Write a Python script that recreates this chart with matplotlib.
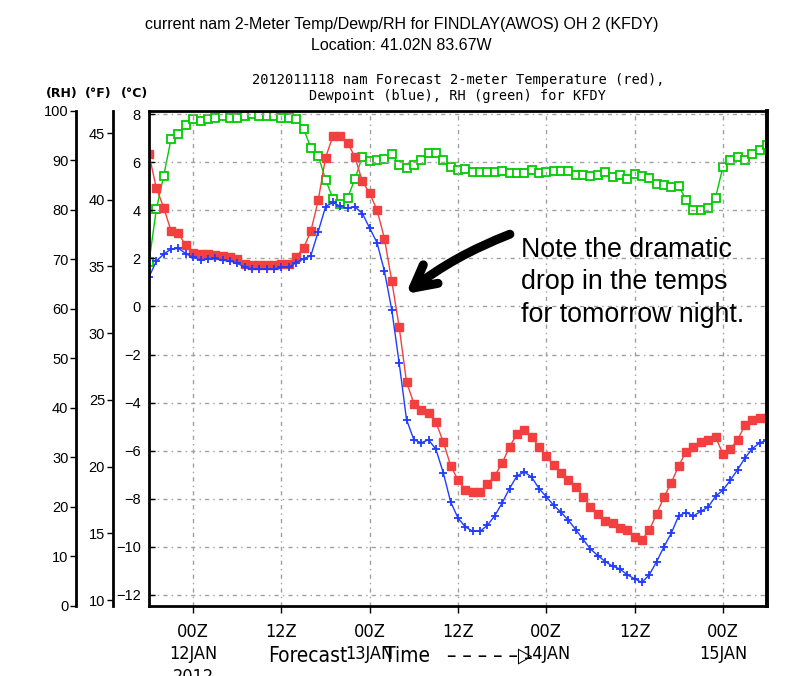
import numpy as np
import matplotlib.pyplot as plt

# NAM forecast for KFDY, init 2012011118, hourly to 84 h
fcst_hour = np.arange(0, 85)

temp_c = [6.33, 4.92, 4.12, 3.14, 3.04, 2.54, 2.23, 2.18, 2.18, 2.15,
          2.11, 2.08, 1.97, 1.79, 1.71, 1.71, 1.71, 1.71, 1.76, 1.78,
          2.08, 2.43, 3.14, 4.42, 6.2, 7.1, 7.1, 6.82, 6.21, 5.21,
          4.71, 4.01, 2.83, 1.05, -0.85, -3.14, -4.04, -4.33, -4.44, -4.83,
          -5.64, -6.63, -7.23, -7.63, -7.74, -7.74, -7.41, -7.04, -6.53, -5.83,
          -5.33, -5.13, -5.44, -5.83, -6.23, -6.62, -6.92, -7.22, -7.5, -7.92,
          -8.33, -8.63, -8.93, -9.02, -9.21, -9.31, -9.61, -9.71, -9.31, -8.63,
          -7.93, -7.33, -6.63, -6.04, -5.83, -5.63, -5.54, -5.44, -6.13, -5.94,
          -5.55, -4.94, -4.74, -4.63, -4.63]

dewp_c = [1.23, 1.89, 2.18, 2.39, 2.42, 2.2, 2.05, 1.93, 1.97, 2.0,
          1.93, 1.9, 1.8, 1.64, 1.55, 1.55, 1.55, 1.55, 1.63, 1.63,
          1.83, 1.98, 2.12, 3.12, 4.16, 4.33, 4.17, 4.1, 4.15, 3.87,
          3.26, 2.65, 1.47, -0.15, -2.35, -4.71, -5.55, -5.67, -5.55, -5.95,
          -6.93, -8.14, -8.81, -9.18, -9.36, -9.36, -9.11, -8.71, -8.18, -7.58,
          -7.06, -6.89, -7.1, -7.58, -7.92, -8.28, -8.57, -8.9, -9.29, -9.7,
          -10.1, -10.37, -10.62, -10.81, -10.93, -11.17, -11.34, -11.49, -11.17, -10.62,
          -10.0, -9.43, -8.71, -8.58, -8.72, -8.53, -8.35, -7.9, -7.65, -7.24,
          -6.79, -6.31, -5.92, -5.68, -5.57]

rh_pct = [69.5, 80.2, 86.9, 94.4, 95.4, 97.2, 98.3, 98.0, 98.4, 98.6,
          99.0, 98.6, 98.6, 99.0, 99.3, 99.0, 99.0, 99.0, 98.6, 98.6,
          98.3, 96.4, 92.6, 91.0, 86.1, 82.3, 81.3, 82.5, 86.3, 90.8,
          89.8, 90.2, 90.4, 91.4, 89.0, 88.5, 89.0, 90.2, 91.6, 91.6,
          90.2, 88.7, 88.1, 88.3, 87.7, 87.7, 87.7, 87.7, 87.8, 87.4,
          87.5, 87.4, 88.0, 87.4, 87.6, 87.8, 87.8, 87.8, 87.1, 87.0,
          86.9, 87.0, 87.6, 86.7, 87.1, 86.3, 87.3, 86.9, 86.4, 85.3,
          85.1, 84.7, 84.9, 82.0, 79.9, 79.9, 80.4, 82.5, 88.7, 90.2,
          90.8, 90.2, 91.4, 92.1, 93.2]

xtick_hours = [6, 18, 30, 42, 54, 66, 78]
xtick_labels = ['00Z\n12JAN\n2012', '12Z', '00Z\n13JAN', '12Z',
                '00Z\n14JAN', '12Z', '00Z\n15JAN']
c_ticks = list(range(-12, 9, 2))
f_ticks = list(range(10, 46, 5))
rh_ticks = list(range(0, 101, 10))

c_lim = (-12.47, 8.14)


def c2f(c):
    return c * 9.0 / 5.0 + 32.0


sans = ['Liberation Sans', 'DejaVu Sans']

fig = plt.figure(figsize=(8.02, 6.76), dpi=100)
ax = fig.add_axes([0.1858, 0.1036, 0.7706, 0.7322])

ax_rh = ax.twinx()
ax_f = ax.twinx()
ax.set_zorder(3)
ax.patch.set_visible(False)

# RH on its own scale, drawn underneath
ax_rh.plot(fcst_hour, rh_pct, color='#00cc00', lw=1.0, marker='s', ms=5.5,
           mfc='white', mec='#00cc00', mew=1.3)
ax_rh.set_ylim(0, 100)
ax_f.set_ylim(c2f(c_lim[0]), c2f(c_lim[1]))

ax.plot(fcst_hour, temp_c, color='#f24040', lw=1.0, marker='s', ms=5.5,
        mfc='#f24040', mec='#f24040')
ax.plot(fcst_hour, dewp_c, color='#1f3cff', lw=1.0, ls='-', marker='+', ms=6,
        mew=1.3)

ax.set_xlim(0, 84)
ax.set_ylim(*c_lim)
ax.set_yticks(c_ticks)
ax.set_yticklabels(['\u2212%d' % -v if v < 0 else '%d' % v for v in c_ticks])
ax.set_xticks(xtick_hours)
ax.set_xticklabels(xtick_labels, family='DejaVu Sans', stretch='condensed',
                   fontsize=13, linespacing=1.32)
ax.tick_params(axis='x', direction='out', length=5, width=1, pad=7)
ax.tick_params(axis='y', direction='in', length=4, width=1, pad=6, labelsize=10.5)
for t in ax.get_yticklabels():
    t.set_family(sans)
ax.grid(True, color='#a0a0a0', lw=1, ls=(0, (3, 3, 1, 3)))
for s in ax.spines.values():
    s.set_linewidth(2)
ax.spines['right'].set_linewidth(2.8)

for tw, pos, ticks in [(ax_rh, -0.118, rh_ticks), (ax_f, -0.0587, f_ticks)]:
    for side in ['top', 'bottom', 'right']:
        tw.spines[side].set_visible(False)
    tw.spines['left'].set_visible(True)
    tw.spines['left'].set_position(('axes', pos))
    tw.spines['left'].set_linewidth(2)
    tw.yaxis.set_ticks_position('left')
    tw.set_yticks(ticks)
    tw.tick_params(axis='y', direction='out', length=4, width=1, pad=1.5,
                   labelsize=10.5)
    for t in tw.get_yticklabels():
        t.set_family(sans)

# column headers
fig.text(62 / 802, 1 - 93 / 676, '(RH)', ha='center', va='center',
         fontsize=9, weight='bold', family='DejaVu Sans')
fig.text(98 / 802, 1 - 93 / 676, '(\u00b0F)', ha='center', va='center',
         fontsize=9, weight='bold', family='DejaVu Sans')
fig.text(135 / 802, 1 - 93 / 676, '(\u00b0C)', ha='center', va='center',
         fontsize=9, weight='bold', family='DejaVu Sans')

# titles
fig.text(0.5006, 1 - 25 / 676,
         'current nam 2-Meter Temp/Dewp/RH for FINDLAY(AWOS) OH 2 (KFDY)',
         ha='center', va='center', fontsize=11.5, family=sans)
fig.text(0.5, 1 - 46 / 676, 'Location: 41.02N 83.67W',
         ha='center', va='center', fontsize=11.5, family=sans)
fig.text(458 / 802, 1 - 88 / 676,
         '2012011118 nam Forecast 2-meter Temperature (red),\n'
         'Dewpoint (blue), RH (green) for KFDY',
         ha='center', va='center', fontsize=9.8, family='DejaVu Sans Mono',
         linespacing=1.1)

# axis caption sits on the date row, as in the original (GrADS spacing)
cap_y = 1 - 656 / 676
cap_kw = dict(va='center', fontsize=15, family='DejaVu Sans', stretch='condensed')
fig.text(268 / 802, cap_y, 'Forecast', ha='left', **cap_kw)
fig.text(384 / 802, cap_y, 'Time', ha='left', **cap_kw)
fig.text(447 / 802, cap_y, '\u2013 \u2013 \u2013 \u2013 \u2013\u25b7', ha='left', **cap_kw)

# note and hand-drawn arrow
fig.text(521 / 802, 1 - 237 / 676,
         'Note the dramatic\ndrop in the temps\nfor tomorrow night.',
         ha='left', va='top', fontsize=19.3, family=sans, linespacing=1.32)
ax.annotate('', xy=(34.6, 0.45), xytext=(49.4, 3.05),
            arrowprops=dict(arrowstyle='->,head_length=1.6,head_width=0.85',
                            lw=6.5, color='black', capstyle='round',
                            connectionstyle='arc3,rad=0.08'),
            zorder=5)

fig.savefig('out.png', dpi=100)
